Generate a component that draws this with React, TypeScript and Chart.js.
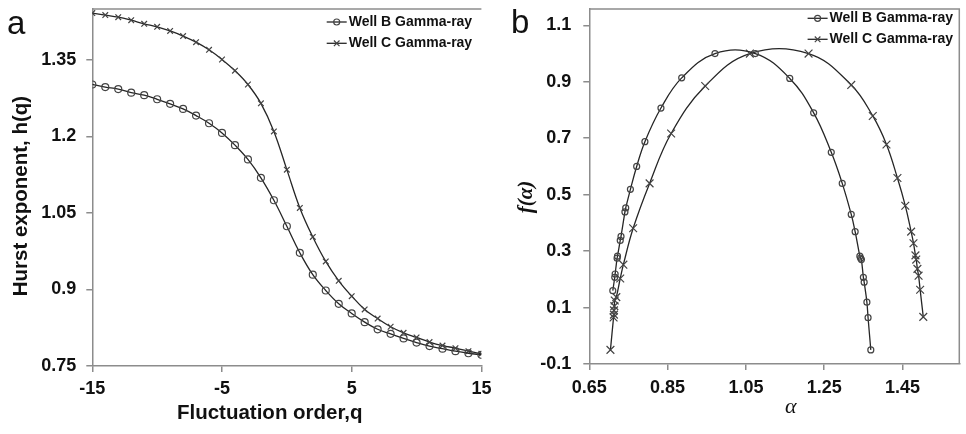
import React, { useEffect, useRef } from 'react';
import { Chart, registerables } from 'chart.js';

Chart.register(...registerables);

const SANS = '"Liberation Sans", Arial, sans-serif';
const SERIF = '"Liberation Serif", "Times New Roman", serif';
const AXIS = '#8c8c8c';
const INK = '#111111';
const LINE = '#262626';
const MARK = '#444444';

const seriesLabels = ['Well B Gamma-ray', 'Well C Gamma-ray'];

// Panel (a): generalized Hurst exponent vs fluctuation order
const qValues = [-15, -14, -13, -12, -11, -10, -9, -8, -7, -6, -5, -4, -3, -2, -1, 0, 1, 2, 3, 4, 5, 6, 7, 8, 9, 10, 11, 12, 13, 14, 15];
const wellBHurst = [1.302, 1.297, 1.293, 1.286, 1.281, 1.273, 1.264, 1.254, 1.241, 1.226, 1.207, 1.183, 1.155, 1.119, 1.075, 1.024, 0.972, 0.929, 0.898, 0.872, 0.853, 0.836, 0.822, 0.813, 0.804, 0.796, 0.789, 0.784, 0.779, 0.775, 0.772];
const wellCHurst = [1.442, 1.438, 1.434, 1.428, 1.421, 1.415, 1.407, 1.397, 1.385, 1.370, 1.351, 1.329, 1.302, 1.265, 1.210, 1.135, 1.060, 1.003, 0.955, 0.917, 0.887, 0.861, 0.843, 0.827, 0.815, 0.806, 0.797, 0.790, 0.785, 0.779, 0.774];
const qTicks = [-15, -5, 5, 15];
const hTicks = [0.75, 0.9, 1.05, 1.2, 1.35];

// Panel (b): multifractal spectrum f(alpha)
const wellBAlpha = [0.710, 0.715, 0.716, 0.721, 0.722, 0.729, 0.731, 0.741, 0.743, 0.755, 0.771, 0.792, 0.833, 0.886, 0.971, 1.074, 1.162, 1.223, 1.268, 1.296, 1.319, 1.329, 1.341, 1.343, 1.345, 1.350, 1.352, 1.359, 1.362, 1.369];
const wellBF = [0.160, 0.207, 0.219, 0.275, 0.282, 0.338, 0.352, 0.439, 0.453, 0.519, 0.600, 0.688, 0.807, 0.914, 1.000, 1.000, 0.912, 0.790, 0.650, 0.540, 0.430, 0.369, 0.282, 0.275, 0.270, 0.207, 0.190, 0.119, 0.064, -0.050];
const wellCAlpha = [0.704, 0.712, 0.713, 0.713, 0.714, 0.715, 0.719, 0.729, 0.737, 0.762, 0.804, 0.859, 0.946, 1.060, 1.210, 1.319, 1.374, 1.409, 1.437, 1.457, 1.472, 1.478, 1.483, 1.485, 1.488, 1.491, 1.495, 1.503];
const wellCF = [-0.050, 0.065, 0.075, 0.090, 0.105, 0.125, 0.137, 0.203, 0.252, 0.381, 0.540, 0.717, 0.885, 1.000, 1.000, 0.889, 0.779, 0.678, 0.559, 0.461, 0.369, 0.328, 0.285, 0.270, 0.237, 0.213, 0.163, 0.067];
const alphaTicks = [0.65, 0.85, 1.05, 1.25, 1.45];
const fTicks = [-0.1, 0.1, 0.3, 0.5, 0.7, 0.9, 1.1];

const fmt = (v: number) => String(Number(Number(v).toFixed(2)));

const frameLegendPlugin = {
  id: 'frameLegend',
  afterDraw(chart: any, _args: any, opts: any) {
    const { ctx, chartArea: a } = chart;
    ctx.save();
    ctx.strokeStyle = AXIS;
    ctx.lineWidth = 1.5;
    ctx.beginPath();
    ctx.moveTo(a.left, a.top);
    ctx.lineTo(a.right, a.top);
    if (opts.rightEdge) ctx.lineTo(a.right, a.bottom);
    ctx.stroke();
    chart.data.datasets.forEach((ds: any, i: number) => {
      const x0 = a.right - opts.fromRight;
      const y = a.top + opts.rows[i];
      ctx.strokeStyle = LINE;
      ctx.lineWidth = 1.3;
      ctx.beginPath();
      ctx.moveTo(x0, y);
      ctx.lineTo(x0 + 20, y);
      ctx.stroke();
      const cx = x0 + 10;
      ctx.strokeStyle = MARK;
      ctx.lineWidth = 1.2;
      ctx.beginPath();
      if (ds.pointStyle === 'circle') {
        ctx.arc(cx, y, 3, 0, Math.PI * 2);
      } else {
        const d = 2.8;
        ctx.moveTo(cx - d, y - d);
        ctx.lineTo(cx + d, y + d);
        ctx.moveTo(cx - d, y + d);
        ctx.lineTo(cx + d, y - d);
      }
      ctx.stroke();
      ctx.fillStyle = INK;
      ctx.font = `bold 14px ${SANS}`;
      ctx.textBaseline = 'middle';
      ctx.textAlign = 'left';
      ctx.fillText(ds.label, x0 + 22, y);
    });
    ctx.restore();
  },
};

function axis(opts: {
  min: number; max: number; ticks: number[]; size: number; horizontal: boolean;
  tickPad: number; title: string; titleFont: any; titlePad: any;
}) {
  return {
    type: 'linear',
    min: opts.min,
    max: opts.max,
    afterBuildTicks: (s: any) => { s.ticks = opts.ticks.map((v) => ({ value: v })); },
    afterFit: (s: any) => {
      if (opts.horizontal) s.height = opts.size; else s.width = opts.size;
      s.paddingTop = 0; s.paddingBottom = 0; s.paddingLeft = 0; s.paddingRight = 0;
    },
    ticks: {
      font: { family: SANS, size: 18, weight: 'bold' },
      color: INK,
      padding: opts.tickPad,
      maxRotation: 0,
      autoSkip: false,
      callback: (v: any) => fmt(v),
    },
    grid: { drawOnChartArea: false, drawTicks: true, tickLength: 6, color: AXIS, lineWidth: 1.5 },
    border: { color: AXIS, width: 1.5 },
    title: { display: true, text: opts.title, font: opts.titleFont, color: INK, padding: opts.titlePad },
  };
}

function dataset(label: string, xs: number[], ys: number[], circle: boolean, r: number) {
  return {
    label,
    data: xs.map((x, i) => ({ x, y: ys[i] })),
    borderColor: LINE,
    borderWidth: 1.3,
    pointStyle: circle ? 'circle' : 'crossRot',
    pointRadius: r,
    pointBorderColor: MARK,
    pointBackgroundColor: 'rgba(0,0,0,0)',
    pointBorderWidth: 1.2,
    tension: 0.4,
    fill: false,
  };
}

function useChart(ref: React.RefObject<HTMLCanvasElement>, make: () => any) {
  useEffect(() => {
    if (!ref.current) return;
    const chart = new Chart(ref.current, make());
    return () => chart.destroy();
  }, []);
}

export default function App() {
  const leftRef = useRef<HTMLCanvasElement>(null);
  const rightRef = useRef<HTMLCanvasElement>(null);

  useChart(leftRef, () => ({
    type: 'line',
    data: {
      datasets: [
        dataset(seriesLabels[0], qValues, wellBHurst, true, 3.5),
        dataset(seriesLabels[1], qValues, wellCHurst, false, 4),
      ],
    },
    options: {
      responsive: false,
      animation: false,
      devicePixelRatio: 1,
      layout: { padding: { left: 0, top: 9, right: 18.6, bottom: 0 } },
      plugins: {
        legend: { display: false },
        tooltip: { enabled: false },
        frameLegend: { rightEdge: false, fromRight: 154.7, rows: [13, 34.3] },
      },
      scales: {
        x: axis({ min: -15, max: 15, ticks: qTicks, size: 68, horizontal: true, tickPad: 6,
          title: 'Fluctuation order,q      ', titleFont: { family: SANS, size: 20.5, weight: 'bold' }, titlePad: { top: 0, bottom: 8 } }),
        y: axis({ min: 0.75, max: 1.45, ticks: hTicks, size: 92.3, horizontal: false, tickPad: 10,
          title: 'Hurst exponent, h(q)   ', titleFont: { family: SANS, size: 20.5, weight: 'bold' }, titlePad: { top: 9, bottom: 0 } }),
      },
    },
    plugins: [frameLegendPlugin],
  }));

  useChart(rightRef, () => ({
    type: 'line',
    data: {
      datasets: [
        dataset(seriesLabels[0], wellBAlpha, wellBF, true, 3),
        dataset(seriesLabels[1], wellCAlpha, wellCF, false, 5.5),
      ],
    },
    options: {
      responsive: false,
      animation: false,
      devicePixelRatio: 1,
      layout: { padding: { left: 0, top: 9, right: 1, bottom: 0 } },
      plugins: {
        legend: { display: false },
        tooltip: { enabled: false },
        frameLegend: { rightEdge: true, fromRight: 151.7, rows: [9.3, 30.3] },
      },
      scales: {
        x: axis({ min: 0.65, max: 1.595, ticks: alphaTicks, size: 70, horizontal: true, tickPad: 7,
          title: '      α', titleFont: { family: SERIF, size: 22, style: 'italic' }, titlePad: { top: 0, bottom: 14 } }),
        y: axis({ min: -0.1, max: 1.158, ticks: fTicks, size: 99.3, horizontal: false, tickPad: 12,
          title: 'f(α)    ', titleFont: { family: SERIF, size: 21, style: 'italic', weight: 'bold' }, titlePad: { top: 24, bottom: 0 } }),
      },
    },
    plugins: [frameLegendPlugin],
  }));

  const letter: React.CSSProperties = {
    position: 'absolute', fontFamily: SANS, fontSize: 33, lineHeight: '33px', color: INK, margin: 0,
  };

  return (
    <div style={{ position: 'absolute', left: 0, top: 0, width: 966, height: 434, background: '#fff', overflow: 'hidden' }}>
      <canvas ref={leftRef} width={500} height={434} style={{ position: 'absolute', left: 0, top: 0 }} />
      <canvas ref={rightRef} width={476} height={434} style={{ position: 'absolute', left: 490, top: 0 }} />
      <div style={{ ...letter, left: 7, top: 6 }}>a</div>
      <div style={{ ...letter, left: 511, top: 5 }}>b</div>
    </div>
  );
}
